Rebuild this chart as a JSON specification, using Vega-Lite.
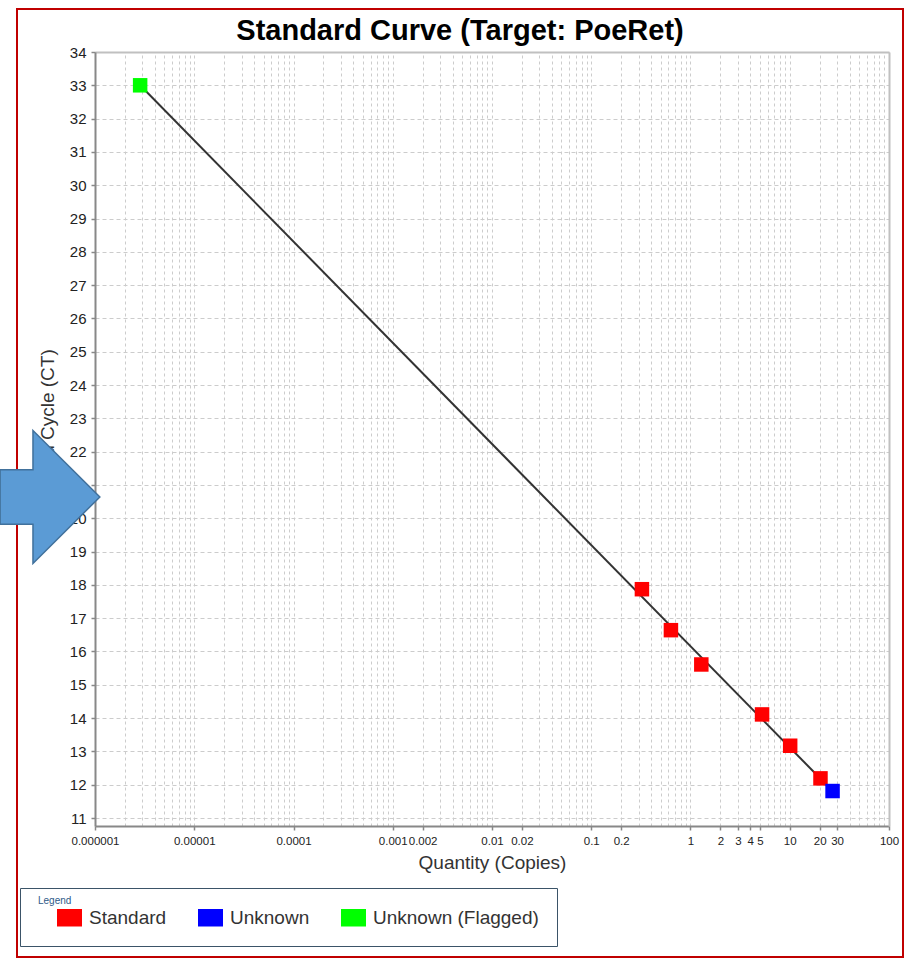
{
  "$schema": "https://vega.github.io/schema/vega-lite/v6.json",
  "width": 886,
  "height": 948,
  "autosize": {"type": "none"},
  "padding": {"left": 17, "top": 9, "right": 7, "bottom": 2},
  "background": "white",
  "config": {
    "font": "Liberation Sans",
    "view": {"stroke": "#c00000", "strokeWidth": 2}
  },
  "title": {
    "text": "Standard Curve (Target: PoeRet)",
    "frame": "group",
    "anchor": "middle",
    "baseline": "top",
    "offset": -37,
    "fontSize": 29,
    "fontWeight": "bold",
    "color": "#000000"
  },
  "datasets": {
    "wells": [
      {"quantity": 0.00000285, "ct": 33.0, "type": "Unknown (Flagged)"},
      {"quantity": 0.324, "ct": 17.87, "type": "Standard"},
      {"quantity": 0.635, "ct": 16.64, "type": "Standard"},
      {"quantity": 1.285, "ct": 15.61, "type": "Standard"},
      {"quantity": 5.26, "ct": 14.11, "type": "Standard"},
      {"quantity": 10.1, "ct": 13.17, "type": "Standard"},
      {"quantity": 20.4, "ct": 12.19, "type": "Standard"},
      {"quantity": 27.0, "ct": 11.81, "type": "Unknown"}
    ],
    "fit": [
      {"quantity": 0.00000285, "ct": 33.0},
      {"quantity": 27.0, "ct": 11.81}
    ],
    "note": [
      {"label": "arrow"}
    ]
  },
  "resolve": {"axis": {"x": "independent", "y": "independent"}},
  "layer": [
    {
      "data": {"name": "fit"},
      "mark": {"type": "line", "color": "#333333", "strokeWidth": 2},
      "encoding": {
        "x": {
          "field": "quantity", "type": "quantitative",
          "scale": {"type": "log", "domain": [0.000001, 100], "range": [78, 872], "nice": false},
          "axis": {
            "orient": "top", "offset": -43,
            "values": [0.000001, 0.000002, 0.000003, 0.000004, 0.000005, 0.000006, 0.000007, 0.000008, 0.000009,
                       0.00001, 0.00002, 0.00003, 0.00004, 0.00005, 0.00006, 0.00007, 0.00008, 0.00009,
                       0.0001, 0.0002, 0.0003, 0.0004, 0.0005, 0.0006, 0.0007, 0.0008, 0.0009,
                       0.001, 0.002, 0.003, 0.004, 0.005, 0.006, 0.007, 0.008, 0.009,
                       0.01, 0.02, 0.03, 0.04, 0.05, 0.06, 0.07, 0.08, 0.09,
                       0.1, 0.2, 0.3, 0.4, 0.5, 0.6, 0.7, 0.8, 0.9,
                       1, 2, 3, 4, 5, 6, 7, 8, 9,
                       10, 20, 30, 40, 50, 60, 70, 80, 90, 100],
            "grid": true, "gridColor": "#cccccc", "gridDash": [3, 3], "gridWidth": 1,
            "domainColor": "#c0c0c0", "domainWidth": 2,
            "ticks": false, "labels": false, "title": null
          }
        },
        "y": {
          "field": "ct", "type": "quantitative",
          "scale": {"domain": [10.76, 34], "range": [817, 43], "nice": false, "zero": false},
          "axis": {
            "orient": "left", "offset": -78,
            "values": [11, 12, 13, 14, 15, 16, 17, 18, 19, 20, 21, 22, 23, 24, 25, 26, 27, 28, 29, 30, 31, 32, 33, 34],
            "grid": true, "gridColor": "#cccccc", "gridDash": [4, 3], "gridWidth": 1,
            "domain": false, "ticks": false, "labels": false, "title": null
          }
        }
      }
    },
    {
      "data": {"name": "wells"},
      "mark": {"type": "point", "shape": "square", "filled": true, "size": 210, "opacity": 1},
      "encoding": {
        "x": {
          "field": "quantity", "type": "quantitative",
          "scale": {"type": "log", "domain": [0.000001, 100], "range": [78, 872], "nice": false},
          "axis": {
            "orient": "bottom", "offset": -131,
            "values": [0.000001, 0.00001, 0.0001, 0.001, 0.002, 0.01, 0.02, 0.1, 0.2, 1, 2, 3, 4, 5, 10, 20, 30, 100],
            "format": "~f",
            "grid": false,
            "labelOverlap": false, "labelFlush": false, "labelBound": false,
            "labelFontSize": 11.5, "labelColor": "#222222", "labelPadding": 5,
            "tickSize": 4, "tickColor": "#888888", "tickWidth": 1.5,
            "domainColor": "#888888", "domainWidth": 2,
            "title": "Quantity (Copies)", "titleFontSize": 19, "titleFontWeight": "normal",
            "titleColor": "#333333", "titlePadding": 7
          }
        },
        "y": {
          "field": "ct", "type": "quantitative",
          "scale": {"domain": [10.76, 34], "range": [817, 43], "nice": false, "zero": false},
          "axis": {
            "orient": "left", "offset": -78,
            "values": [11, 12, 13, 14, 15, 16, 17, 18, 19, 20, 21, 22, 23, 24, 25, 26, 27, 28, 29, 30, 31, 32, 33, 34],
            "grid": false, "labelOverlap": false,
            "labelFontSize": 15, "labelColor": "#222222", "labelPadding": 5,
            "tickSize": 4, "tickColor": "#888888", "tickWidth": 1.5,
            "domainColor": "#888888", "domainWidth": 2,
            "title": "Threshold Cycle (CT)", "titleFontSize": 19, "titleFontWeight": "normal",
            "titleColor": "#333333", "titlePadding": 12
          }
        },
        "color": {
          "field": "type", "type": "nominal",
          "scale": {"domain": ["Standard", "Unknown", "Unknown (Flagged)"], "range": ["#ff0000", "#0000ff", "#00ff00"]},
          "legend": {
            "orient": "none", "legendX": 3, "legendY": 879, "direction": "horizontal",
            "title": "Legend", "titleFontSize": 10, "titleFontWeight": "normal", "titleColor": "#2e5a88",
            "titleBaseline": "bottom", "titlePadding": -11, "padding": 18,
            "strokeColor": "#3b5468", "fillColor": "#ffffff",
            "symbolType": "M-1,-0.7H1V0.7H-1Z", "symbolSize": 625, "symbolStrokeWidth": 0,
            "symbolOffset": 19,
            "labelFontSize": 19, "labelColor": "#333333", "labelOffset": 7, "labelLimit": 400,
            "columnPadding": 12
          }
        }
      }
    },
    {
      "data": {"name": "note"},
      "mark": {
        "type": "point",
        "shape": "M-0.75,-0.41L-0.256,-0.41L-0.256,-1L0.75,0L-0.256,1L-0.256,0.41L-0.75,0.41Z",
        "size": 17689, "filled": true, "fill": "#5b9bd5", "stroke": "#41719c", "strokeWidth": 1.5, "opacity": 1
      },
      "encoding": {
        "x": {
          "datum": 0.000000352, "type": "quantitative",
          "scale": {"type": "log", "domain": [0.000001, 100], "range": [78, 872], "nice": false},
          "axis": null
        },
        "y": {
          "datum": 20.64, "type": "quantitative",
          "scale": {"domain": [10.76, 34], "range": [817, 43], "nice": false, "zero": false},
          "axis": {
            "orient": "right", "offset": -14,
            "grid": false, "ticks": false, "labels": false, "title": null,
            "domainColor": "#c0c0c0", "domainWidth": 2
          }
        }
      }
    }
  ]
}
